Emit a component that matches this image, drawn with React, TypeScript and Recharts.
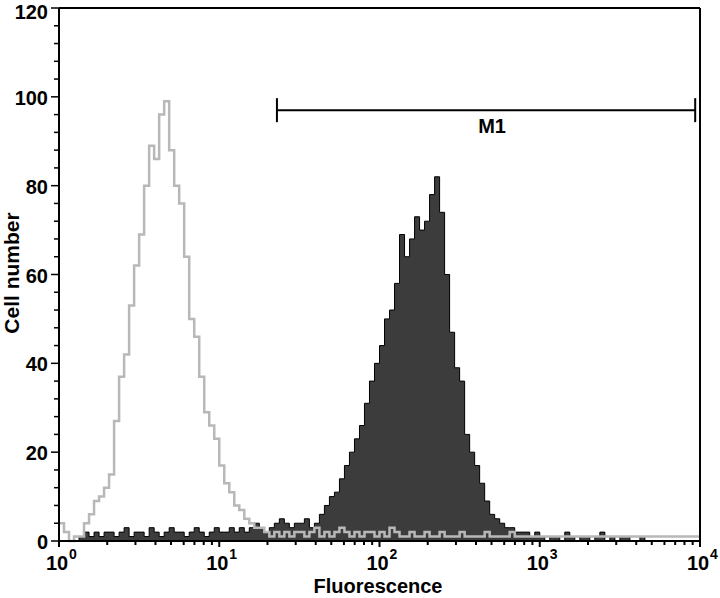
import React from 'react';
import { ComposedChart, Area, XAxis, YAxis, ReferenceLine, Label } from 'recharts';

// histogram channels: 32 per decade, x = log10(fluorescence)
const BINS_PER_DECADE = 32;

const controlCounts = [
  4, 2, 0, 1, 1, 4, 6, 9, 10, 12, 15,
  27, 37, 42, 53, 62, 69, 80, 89, 86, 96,
  99, 88, 80, 76, 64, 50, 46, 37, 29, 26,
  23, 17, 13, 11, 8, 7, 5, 4, 3, 3, 2,
  1, 2, 1, 2, 1, 2, 2, 1, 2, 3,
  1, 2, 1, 2, 3, 2, 1, 2, 1, 2,
  2, 1, 2, 1, 3, 2, 1, 1, 2, 1,
  1, 2, 1, 1, 2, 1, 1, 1, 2, 1,
  1, 1, 1, 2, 1, 1, 1, 1, 2, 1,
  1, 1, 1, 1, 1, 1, 1, 1, 1, 1,
  1, 1, 1, 1, 1, 1, 1, 1, 1, 1,
  1, 1, 1, 1, 1, 1, 1, 1, 1, 1,
  1, 1, 1, 1, 1, 1, 1,
];

const stainedCounts = [
  0, 0, 0, 0, 1, 2, 1, 2, 1, 2,
  2, 1, 2, 3, 1, 2, 2, 1, 3, 2,
  1, 2, 3, 2, 2, 1, 2, 3, 2, 1,
  2, 3, 2, 2, 3, 2,
  3, 2, 3, 4, 3, 2, 3, 4, 5, 4, 3, 4,
  4, 5, 3, 4, 6, 8, 10, 11, 14, 17,
  20, 23, 26, 31, 36, 40, 44, 50, 52, 58,
  69, 64, 68, 73, 70, 72, 78, 82, 74, 60,
  47, 39, 36, 24, 20, 17, 13, 9, 6, 5,
  4, 3, 3, 2, 2, 2, 1, 2, 1, 0,
  1, 1, 0, 2, 1, 0, 1, 1, 0, 1,
  2, 0, 1, 0, 1, 1, 0, 0, 1, 0,
  0, 0, 0, 0, 0, 0, 0, 0, 0, 0, 0,
];

const X_DECADES = [0, 1, 2, 3, 4];
const Y_MAJOR = [0, 20, 40, 60, 80, 100, 120];

// M1 gate, in decades / counts
const M1_START = 1.36;
const M1_END = 3.97;
const M1_LEVEL = 97;
const M1_CAP = 2.7;

const data = controlCounts.map((c, i) => ({
  pos: i / BINS_PER_DECADE,
  control: c,
  stained: stainedCounts[i],
}));

const xTicks: number[] = [];
X_DECADES.forEach((d) => {
  xTicks.push(d);
  if (d < 4) for (let k = 2; k <= 9; k++) xTicks.push(d + Math.log10(k));
});
const yTicks = Array.from({ length: 31 }, (_, i) => i * 4);

const FONT = '"Liberation Sans", Arial, sans-serif';

const XTick = (props: any) => {
  const { x, y, payload } = props;
  const v = payload.value;
  const major = Math.abs(v - Math.round(v)) < 1e-6;
  return (
    <g>
      <line x1={x} x2={x} y1={y} y2={y + (major ? 6 : 4)} stroke="#000" strokeWidth={2} />
      {major && (
        <text x={x - 2} y={y + 29} textAnchor="middle" fontFamily={FONT} fontWeight={700} fontSize={20} fill="#000">
          10
        </text>
      )}
      {major && (
        <text x={x + 10} y={y + 18} fontFamily={FONT} fontWeight={700} fontSize={14} fill="#000">
          {Math.round(v)}
        </text>
      )}
    </g>
  );
};

const YTick = (props: any) => {
  const { x, y, payload } = props;
  const major = Y_MAJOR.includes(payload.value);
  return (
    <g>
      <line x1={x - (major ? 8 : 5)} x2={x} y1={y} y2={y} stroke="#000" strokeWidth={1.5} />
      {major && (
        <text x={x - 11} y={Math.max(y + 8, 19)} textAnchor="end" fontFamily={FONT} fontWeight={700} fontSize={20} fill="#000">
          {payload.value}
        </text>
      )}
    </g>
  );
};

const M1Label = (props: any) => {
  const vb = props.viewBox || {};
  const cx = (vb.x ?? 0) + (vb.width ?? 0) / 2;
  const cy = (vb.y ?? 0) + (vb.height ?? 0);
  return (
    <text x={cx + 6} y={cy + 23} textAnchor="middle" fontFamily={FONT} fontWeight={700} fontSize={20} fill="#000">
      M1
    </text>
  );
};

export default function App() {
  return (
    <div style={{ position: 'absolute', left: 0, top: 0, background: '#fff' }}>
      <ComposedChart width={720} height={598} data={data} margin={{ top: 8, right: 20, bottom: 0, left: 0 }}>
        <XAxis
          dataKey="pos"
          type="number"
          domain={[0, 4]}
          ticks={xTicks}
          interval={0}
          tick={<XTick />}
          tickLine={false}
          tickSize={0}
          tickMargin={0}
          height={57}
          axisLine={{ stroke: '#000', strokeWidth: 2 }}
        >
          <Label
            content={() => (
              <text x={378} y={593} textAnchor="middle" fontFamily={FONT} fontWeight={700} fontSize={20} fill="#000">
                Fluorescence
              </text>
            )}
          />
        </XAxis>
        <YAxis
          type="number"
          domain={[0, 120]}
          ticks={yTicks}
          interval={0}
          tick={<YTick />}
          tickLine={false}
          tickSize={0}
          tickMargin={0}
          width={59}
          axisLine={{ stroke: '#000', strokeWidth: 2 }}
        >
          <Label
            content={() => (
              <text
                x={11}
                y={273}
                transform="rotate(-90 11 273)"
                textAnchor="middle"
                dominantBaseline="central"
                fontFamily={FONT}
                fontWeight={700}
                fontSize={21}
                fill="#000"
              >
                Cell number
              </text>
            )}
          />
        </YAxis>
        <ReferenceLine y={120} stroke="#000" strokeWidth={2} />
        <ReferenceLine x={4} stroke="#000" strokeWidth={2} />
        <Area
          dataKey="stained"
          type="stepAfter"
          fill="#3c3c3c"
          fillOpacity={1}
          stroke="#000"
          strokeWidth={1}
          isAnimationActive={false}
        />
        <Area
          dataKey="control"
          type="stepAfter"
          fill="none"
          stroke="#b8b8b8"
          strokeWidth={2.5}
          isAnimationActive={false}
        />
        <ReferenceLine
          segment={[
            { x: M1_START, y: M1_LEVEL },
            { x: M1_END, y: M1_LEVEL },
          ]}
          stroke="#000"
          strokeWidth={2}
          label={<M1Label />}
        />
        <ReferenceLine
          segment={[
            { x: M1_START, y: M1_LEVEL - M1_CAP },
            { x: M1_START, y: M1_LEVEL + M1_CAP },
          ]}
          stroke="#000"
          strokeWidth={2}
        />
        <ReferenceLine
          segment={[
            { x: M1_END, y: M1_LEVEL - M1_CAP },
            { x: M1_END, y: M1_LEVEL + M1_CAP },
          ]}
          stroke="#000"
          strokeWidth={2}
        />
      </ComposedChart>
    </div>
  );
}
